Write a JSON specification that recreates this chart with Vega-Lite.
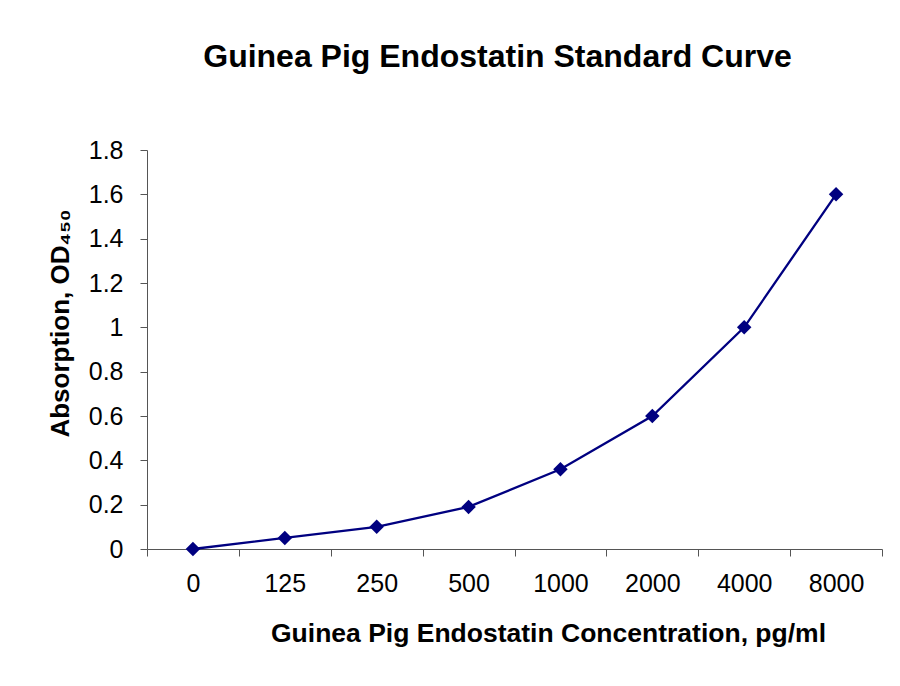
{
  "$schema": "https://vega.github.io/schema/vega-lite/v6.json",
  "width": 735,
  "height": 399,
  "autosize": "none",
  "padding": {"left": 147, "top": 150, "right": 18, "bottom": 137},
  "background": "white",
  "title": {
    "text": "Guinea Pig Endostatin Standard Curve",
    "font": "Liberation Sans",
    "fontSize": 32,
    "fontWeight": "bold",
    "color": "black",
    "anchor": "middle",
    "dx": -17,
    "offset": 64
  },
  "data": {
    "values": [
      {"conc": "0", "od": 0},
      {"conc": "125", "od": 0.05},
      {"conc": "250", "od": 0.1},
      {"conc": "500", "od": 0.19},
      {"conc": "1000", "od": 0.36},
      {"conc": "2000", "od": 0.6},
      {"conc": "4000", "od": 1.0},
      {"conc": "8000", "od": 1.6}
    ]
  },
  "mark": {
    "type": "line",
    "color": "#000080",
    "strokeWidth": 2.3,
    "point": {"shape": "diamond", "size": 210, "filled": true, "color": "#000080", "opacity": 1}
  },
  "encoding": {
    "x": {
      "field": "conc",
      "type": "ordinal",
      "sort": null,
      "scale": {"paddingInner": 0, "paddingOuter": 0},
      "axis": {
        "title": "Guinea Pig Endostatin Concentration, pg/ml",
        "titleFont": "Liberation Sans",
        "titleFontSize": 26.5,
        "titleFontWeight": "bold",
        "titleColor": "black",
        "titleX": 401,
        "titleY": 98,
        "titleBaseline": "bottom",
        "labelAngle": 0,
        "labelFont": "Liberation Sans",
        "labelFontSize": 25,
        "labelColor": "black",
        "labelPadding": 15,
        "tickBand": "extent",
        "tickSize": 7,
        "tickColor": "#555",
        "domainColor": "#555",
        "grid": false
      }
    },
    "y": {
      "field": "od",
      "type": "quantitative",
      "scale": {"domain": [0, 1.8], "nice": false},
      "axis": {
        "title": "Absorption, OD₄₅₀",
        "titleFont": "Liberation Sans",
        "titleFontSize": 26,
        "titleFontWeight": "bold",
        "titleColor": "black",
        "titleAngle": -90,
        "titleAlign": "center",
        "titleBaseline": "bottom",
        "titleX": -74,
        "titleY": 173,
        "values": [0, 0.2, 0.4, 0.6, 0.8, 1, 1.2, 1.4, 1.6, 1.8],
        "labelExpr": "datum.value == 0 ? '0' : datum.value == 1 ? '1' : format(datum.value, '.1f')",
        "labelFont": "Liberation Sans",
        "labelFontSize": 25,
        "labelColor": "black",
        "labelPadding": 17,
        "tickSize": 7,
        "tickColor": "#555",
        "domainColor": "#555",
        "grid": false
      }
    }
  },
  "config": {
    "view": {"stroke": null}
  }
}
